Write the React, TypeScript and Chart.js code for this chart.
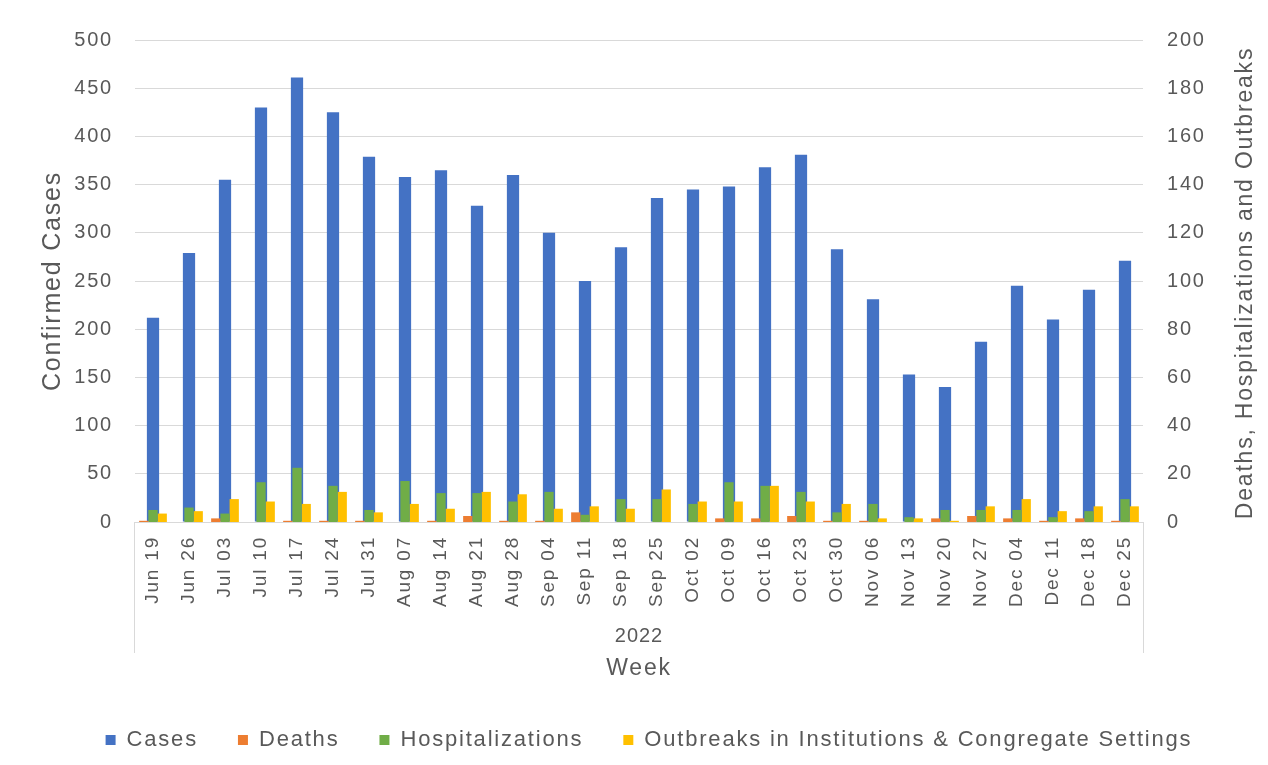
import React, { useEffect, useRef } from 'react';
import { Chart, registerables } from 'chart.js';

Chart.register(...registerables);

const weeks = [
  'Jun 19', 'Jun 26', 'Jul 03', 'Jul 10', 'Jul 17', 'Jul 24', 'Jul 31',
  'Aug 07', 'Aug 14', 'Aug 21', 'Aug 28', 'Sep 04', 'Sep 11', 'Sep 18',
  'Sep 25', 'Oct 02', 'Oct 09', 'Oct 16', 'Oct 23', 'Oct 30', 'Nov 06',
  'Nov 13', 'Nov 20', 'Nov 27', 'Dec 04', 'Dec 11', 'Dec 18', 'Dec 25',
];

const cases = [
  212, 279, 355, 430, 461, 425, 379, 358, 365, 328, 360, 300, 250, 285,
  336, 345, 348, 368, 381, 283, 231, 153, 140, 187, 245, 210, 241, 271,
];

const deaths = [
  0.5, 0, 1.5, 0, 0.5, 0.5, 0.5, 0, 0.5, 2.5, 0.5, 0.5, 4, 0,
  0, 0, 1.5, 1.5, 2.5, 0.5, 0.5, 0, 1.5, 2.5, 1.5, 0.5, 1.5, 0.5,
];

const hospitalizations = [
  5, 6, 3.5, 16.5, 22.5, 15, 5, 17, 12, 12, 8.5, 12.5, 3, 9.5,
  9.5, 7.5, 16.5, 15, 12.5, 4, 7.5, 2, 5, 5, 5, 2, 4.5, 9.5,
];

const outbreaks = [
  3.5, 4.5, 9.5, 8.5, 7.5, 12.5, 4, 7.5, 5.5, 12.5, 11.5, 5.5, 6.5, 5.5,
  13.5, 8.5, 8.5, 15, 8.5, 7.5, 1.5, 1.5, 0.5, 6.5, 9.5, 4.5, 6.5, 6.5,
];

const yearLabel = '2022';
const xTitle = 'Week';
const leftTitle = 'Confirmed Cases';
const rightTitle = 'Deaths, Hospitalizations and Outbreaks';
const seriesNames = ['Cases', 'Deaths', 'Hospitalizations', 'Outbreaks in Institutions & Congregate Settings'];

const FONT = '"Liberation Sans", Arial, Helvetica, sans-serif';
const TEXT = '#595959';
const GRID = '#d9d9d9';
const COLORS = ['#4472C4', '#ED7D31', '#70AD47', '#FFC000'];

const spacingPlugin = {
  id: 'letterSpacing',
  beforeUpdate(chart: any) {
    chart.ctx.letterSpacing = '1.8px';
  },
  beforeDraw(chart: any) {
    chart.ctx.letterSpacing = '1.8px';
  },
};

const extrasPlugin = {
  id: 'extras',
  afterDraw(chart: any) {
    const { ctx, chartArea } = chart;
    const { left, right, top, bottom } = chartArea;
    ctx.save();
    ctx.strokeStyle = GRID;
    ctx.lineWidth = 1;
    ctx.beginPath();
    const lx = Math.round(left) - 0.5;
    const rx = Math.round(right) + 0.5;
    ctx.moveTo(lx, bottom);
    ctx.lineTo(lx, bottom + 131);
    ctx.moveTo(rx, bottom);
    ctx.lineTo(rx, bottom + 131);
    ctx.stroke();

    ctx.fillStyle = TEXT;
    ctx.font = `20px ${FONT}`;
    ctx.letterSpacing = '1px';
    ctx.textAlign = 'center';
    ctx.textBaseline = 'middle';
    ctx.fillText(yearLabel, (left + right) / 2, bottom + 114);

    ctx.font = `23px ${FONT}`;
    ctx.letterSpacing = '1.8px';
    ctx.translate(chart.width - 16, (top + bottom) / 2 + 2);
    ctx.rotate(-Math.PI / 2);
    ctx.textBaseline = 'alphabetic';
    ctx.fillText(rightTitle, 0, 0);
    ctx.restore();
  },
};

export default function App() {
  const canvasRef = useRef<HTMLCanvasElement | null>(null);

  useEffect(() => {
    document.body.style.margin = '0';
    const canvas = canvasRef.current;
    if (!canvas) return;
    const chart = new Chart(canvas, {
      type: 'bar',
      data: {
        labels: weeks,
        datasets: [
          {
            label: seriesNames[0],
            data: cases,
            backgroundColor: COLORS[0],
            yAxisID: 'y',
            grouped: false,
            categoryPercentage: 1,
            barPercentage: 0.34,
            order: 1,
          },
          {
            label: seriesNames[1],
            data: deaths,
            backgroundColor: COLORS[1],
            yAxisID: 'y2',
            categoryPercentage: 0.77,
            barPercentage: 1,
            order: 0,
          },
          {
            label: seriesNames[2],
            data: hospitalizations,
            backgroundColor: COLORS[2],
            yAxisID: 'y2',
            categoryPercentage: 0.77,
            barPercentage: 1,
            order: 0,
          },
          {
            label: seriesNames[3],
            data: outbreaks,
            backgroundColor: COLORS[3],
            yAxisID: 'y2',
            categoryPercentage: 0.77,
            barPercentage: 1,
            order: 0,
          },
        ],
      } as any,
      options: {
        responsive: false,
        animation: false,
        layout: { padding: { left: 30, right: 0, top: 40, bottom: 4 } },
        plugins: {
          tooltip: { enabled: false },
          legend: {
            position: 'bottom',
            labels: {
              boxWidth: 10,
              boxHeight: 10,
              padding: 40,
              color: TEXT,
              font: { family: FONT, size: 22 },
              sort: (a: any, b: any) => a.datasetIndex - b.datasetIndex,
            },
          },
        },
        scales: {
          x: {
            type: 'category',
            grid: { display: false, drawTicks: false },
            border: { display: true, color: GRID },
            ticks: {
              color: TEXT,
              font: { family: FONT, size: 19 },
              minRotation: 90,
              maxRotation: 90,
              autoSkip: false,
              padding: 14,
            },
            title: {
              display: true,
              text: xTitle,
              color: TEXT,
              font: { family: FONT, size: 23 },
              padding: { top: 0, bottom: 7 },
            },
            afterFit: (s: any) => {
              const lg = s.chart.legend;
              s.height = s.chart.height - 4 - (lg ? lg.height : 0) - 522;
            },
          },
          y: {
            type: 'linear',
            position: 'left',
            min: 0,
            max: 500,
            ticks: { stepSize: 50, color: TEXT, font: { family: FONT, size: 20 }, padding: 22 },
            grid: { color: GRID, drawTicks: false },
            border: { display: false },
            title: {
              display: true,
              text: leftTitle,
              color: TEXT,
              font: { family: FONT, size: 25 },
              padding: { top: 8, bottom: 0 },
            },
            afterFit: (s: any) => {
              s.width = 105;
            },
          },
          y2: {
            type: 'linear',
            position: 'right',
            min: 0,
            max: 200,
            ticks: { stepSize: 20, color: TEXT, font: { family: FONT, size: 20 }, padding: 24 },
            grid: { display: false, drawTicks: false },
            border: { display: false },
            afterFit: (s: any) => {
              s.width = 125;
            },
          },
        },
      } as any,
      plugins: [spacingPlugin, extrasPlugin],
    });
    return () => chart.destroy();
  }, []);

  return (
    <div style={{ width: 1268, height: 765, background: '#ffffff' }}>
      <canvas ref={canvasRef} width={1268} height={765} style={{ width: 1268, height: 765 }} />
    </div>
  );
}
